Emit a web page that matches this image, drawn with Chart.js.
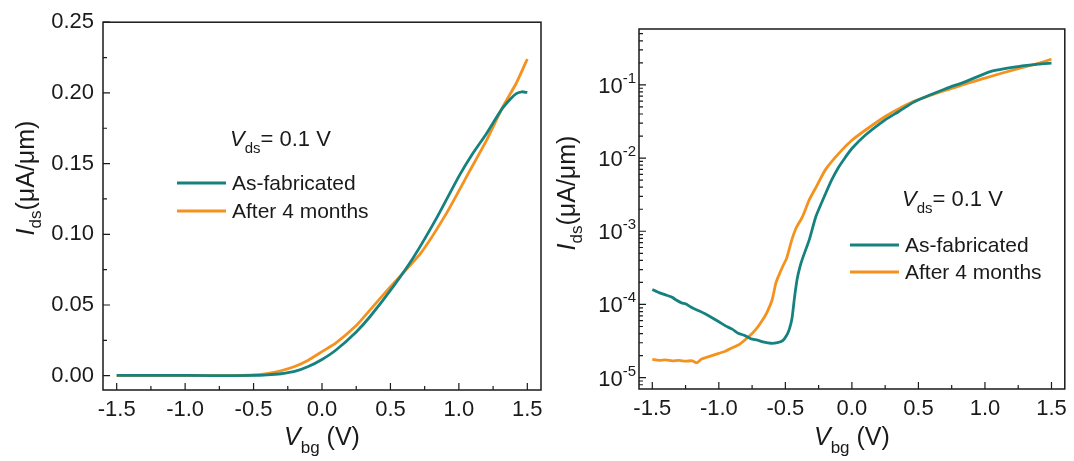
<!DOCTYPE html>
<html>
<head>
<meta charset="utf-8">
<script src="https://cdn.jsdelivr.net/npm/chart.js@4.4.1/dist/chart.umd.min.js"></script>
<style>
  body { margin: 0; background: #fff; }
  #wrap { position: relative; width: 1074px; height: 461px; }
  #left  { position: absolute; left: 0;     top: 0; }
  #right { position: absolute; left: 550px; top: 0; }
</style>
</head>
<body>
<div id="wrap">
  <canvas id="left" width="550" height="461"></canvas>
  <canvas id="right" width="524" height="461"></canvas>
</div>
<script>
// ---- data ----
const seriesNames = ["As-fabricated", "After 4 months"];

// linear panel
const linVbgFab = [-1.5, -1.15, -0.8, -0.5, -0.4, -0.3, -0.2, -0.1, 0, 0.1, 0.25, 0.35, 0.52, 0.67, 0.84, 1.0, 1.1, 1.2, 1.31, 1.38, 1.42, 1.46, 1.5];
const linIdsFab = [0.0003, 0.0003, 0.0001, 0.0002, 0.0006, 0.0014, 0.003, 0.0065, 0.0115, 0.018, 0.031, 0.0417, 0.063, 0.084, 0.112, 0.141, 0.157, 0.171, 0.188, 0.196, 0.1995, 0.2008, 0.2003];
const linVbgAged = [-1.5, -1.0, -0.64, -0.5, -0.4, -0.3, -0.2, -0.1, 0, 0.1, 0.25, 0.35, 0.5, 0.72, 0.91, 1.08, 1.2, 1.32, 1.42, 1.5];
const linIdsAged = [0, 0, 0.0001, 0.0005, 0.0015, 0.0035, 0.0065, 0.011, 0.017, 0.023, 0.0355, 0.0464, 0.063, 0.0865, 0.115, 0.145, 0.166, 0.19, 0.207, 0.224];

// log panel
const logVbgFab = [-1.5, -1.45, -1.4, -1.35, -1.32, -1.28, -1.25, -1.2, -1.15, -1.1, -1.07, -1.0, -0.95, -0.9, -0.85, -0.81, -0.76, -0.71, -0.66, -0.61, -0.56, -0.52, -0.49, -0.47, -0.45, -0.43, -0.41, -0.39, -0.37, -0.32, -0.27, -0.2, -0.15, -0.1, -0.05, 0, 0.1, 0.25, 0.35, 0.47, 0.7, 0.85, 1.04, 1.25, 1.4, 1.5];
const logIdsFab = [1.6e-4, 1.45e-4, 1.35e-4, 1.25e-4, 1.15e-4, 1.05e-4, 1.02e-4, 9.0e-5, 8.2e-5, 7.4e-5, 6.9e-5, 5.8e-5, 5.1e-5, 4.6e-5, 4.0e-5, 3.8e-5, 3.4e-5, 3.25e-5, 3.05e-5, 2.95e-5, 3.0e-5, 3.2e-5, 3.8e-5, 4.6e-5, 6.5e-5, 1.3e-4, 2.3e-4, 3.3e-4, 4.3e-4, 7.7e-4, 1.6e-3, 3.2e-3, 5.1e-3, 7.5e-3, 0.0102, 0.0135, 0.0205, 0.0333, 0.043, 0.059, 0.088, 0.11, 0.152, 0.178, 0.192, 0.198];
const logVbgAged = [-1.5, -1.45, -1.4, -1.35, -1.3, -1.25, -1.2, -1.165, -1.13, -1.07, -1.0, -0.95, -0.89, -0.84, -0.77, -0.72, -0.68, -0.64, -0.6, -0.57, -0.545, -0.52, -0.49, -0.45, -0.42, -0.37, -0.32, -0.26, -0.2, -0.1, 0, 0.1, 0.25, 0.35, 0.47, 0.7, 0.85, 1.0, 1.25, 1.4, 1.5];
const logIdsAged = [1.78e-5, 1.72e-5, 1.75e-5, 1.7e-5, 1.72e-5, 1.68e-5, 1.7e-5, 1.6e-5, 1.8e-5, 1.95e-5, 2.15e-5, 2.3e-5, 2.6e-5, 2.9e-5, 3.7e-5, 4.6e-5, 5.8e-5, 7.7e-5, 1.15e-4, 2.0e-4, 2.6e-4, 3.3e-4, 4.3e-4, 7.8e-4, 1.1e-3, 1.6e-3, 2.7e-3, 4.3e-3, 6.9e-3, 0.0115, 0.0175, 0.024, 0.037, 0.047, 0.06, 0.084, 0.102, 0.124, 0.167, 0.197, 0.224];

// ticks
const xMajor = [-1.5, -1.0, -0.5, 0, 0.5, 1.0, 1.5];
const xMinor = [-1.25, -0.75, -0.25, 0.25, 0.75, 1.25];
const linMajor = [0, 0.05, 0.10, 0.15, 0.20, 0.25];
const linMinor = [0.025, 0.075, 0.125, 0.175, 0.225];
const logMajor = [1e-5, 1e-4, 1e-3, 1e-2, 1e-1];
const logExp = ["-5", "-4", "-3", "-2", "-1"];

const FONT = '"Liberation Sans", Arial, sans-serif';
const TEAL = "#16827f";
const ORANGE = "#f5921e";
const INK = "#1a1a1a";

const pts = (xs, ys) => xs.map((x, i) => ({ x, y: ys[i] }));

// draws [text, size, italic, dy] pieces in a row
function rich(ctx, parts, x, y, align) {
  const f = p => `${p[2] ? "italic " : ""}${p[1]}px ${FONT}`;
  let w = 0;
  parts.forEach(p => { ctx.font = f(p); w += ctx.measureText(p[0]).width; });
  let cx = align === "center" ? x - w / 2 : x;
  ctx.textAlign = "left";
  ctx.textBaseline = "alphabetic";
  parts.forEach(p => {
    ctx.font = f(p);
    ctx.fillText(p[0], cx, y + p[3]);
    cx += ctx.measureText(p[0]).width;
  });
}

function decor(cfg) {
  return {
    id: "decor",
    afterDraw(chart) {
      const { ctx, chartArea: a, scales: { x, y } } = chart;
      ctx.save();
      ctx.strokeStyle = INK;
      ctx.fillStyle = INK;
      ctx.lineWidth = 1.5;
      ctx.strokeRect(a.left, a.top, a.right - a.left, a.bottom - a.top);

      // inward ticks
      ctx.lineWidth = 1.2;
      ctx.beginPath();
      xMajor.forEach(v => { const p = x.getPixelForValue(v); ctx.moveTo(p, a.bottom); ctx.lineTo(p, a.bottom - 7); });
      xMinor.forEach(v => { const p = x.getPixelForValue(v); ctx.moveTo(p, a.bottom); ctx.lineTo(p, a.bottom - 4); });
      cfg.yMajor.forEach(v => { const p = y.getPixelForValue(v); ctx.moveTo(a.left, p); ctx.lineTo(a.left + 7, p); });
      cfg.yMinor.forEach(v => { const p = y.getPixelForValue(v); ctx.moveTo(a.left, p); ctx.lineTo(a.left + 4, p); });
      ctx.stroke();

      // log labels 10^n
      if (cfg.log) {
        logMajor.forEach((v, i) => {
          const p = y.getPixelForValue(v);
          ctx.font = `15px ${FONT}`;
          const ew = ctx.measureText(logExp[i]).width;
          ctx.font = `22px ${FONT}`;
          const bw = ctx.measureText("10").width;
          const right = a.left - 3;
          ctx.textAlign = "left";
          ctx.textBaseline = "alphabetic";
          ctx.fillText("10", right - ew - bw, p + 8);
          ctx.font = `15px ${FONT}`;
          ctx.fillText(logExp[i], right - ew, p - 2);
        });
      }

      // axis titles
      rich(ctx, [["V", 25, true, 0], ["bg", 17, false, 8], [" (V)", 25, false, 0]],
           (a.left + a.right) / 2, 445, "center");
      ctx.save();
      ctx.translate(cfg.yTitleX, cfg.yTitleY);
      ctx.rotate(-Math.PI / 2);
      rich(ctx, [["I", 25, true, 0], ["ds", 17, false, 7], ["(μA/μm)", 25, false, 0]], 0, 0, "center");
      ctx.restore();

      // V_ds annotation
      rich(ctx, [["V", 22, true, 0], ["ds", 15, false, 7], ["= 0.1 V", 22, false, 0]], cfg.noteX, cfg.noteY, "left");

      // legend
      [TEAL, ORANGE].forEach((c, i) => {
        const yy = cfg.legY + i * cfg.legGap;
        ctx.strokeStyle = c;
        ctx.lineWidth = 2.8;
        ctx.beginPath();
        ctx.moveTo(cfg.legX, yy); ctx.lineTo(cfg.legX + 49, yy);
        ctx.stroke();
        ctx.fillStyle = INK;
        ctx.font = `21px ${FONT}`;
        ctx.textAlign = "left";
        ctx.textBaseline = "middle";
        ctx.fillText(seriesNames[i], cfg.legX + 55, yy + 1);
      });
      ctx.restore();
    }
  };
}

function datasets(xf, yf, xa, ya) {
  return [
    { label: seriesNames[0], data: pts(xf, yf), borderColor: TEAL, borderWidth: 2.8, pointRadius: 0, showLine: true, tension: 0.2 },
    { label: seriesNames[1], data: pts(xa, ya), borderColor: ORANGE, borderWidth: 2.8, pointRadius: 0, showLine: true, tension: 0.2 },
  ];
}

const xScale = (h) => ({
  type: "linear", min: -1.6, max: 1.6,
  afterBuildTicks: s => { s.ticks = xMajor.map(v => ({ value: v })); },
  afterFit: s => { s.height = h; },
  grid: { display: false, drawTicks: false },
  border: { display: false },
  ticks: { color: INK, font: { family: FONT, size: 22 }, padding: 7, maxRotation: 0,
           callback: v => v.toFixed(1) },
});

const common = {
  responsive: false,
  animation: false,
  plugins: { legend: { display: false }, tooltip: { enabled: false } },
};

new Chart(document.getElementById("left"), {
  type: "scatter",
  data: { datasets: datasets(linVbgFab, linIdsFab, linVbgAged, linIdsAged) },
  options: {
    ...common,
    layout: { padding: { top: 22, right: 9, left: 0, bottom: 0 } },
    scales: {
      x: xScale(71),
      y: {
        type: "linear", min: -0.0101, max: 0.25,
        afterBuildTicks: s => { s.ticks = linMajor.map(v => ({ value: v })); },
        afterFit: s => { s.width = 103; },
        grid: { display: false, drawTicks: false },
        border: { display: false },
        ticks: { color: INK, font: { family: FONT, size: 22 }, padding: 9, callback: v => v.toFixed(2) },
      },
    },
  },
  plugins: [decor({ yMajor: linMajor, yMinor: linMinor, log: false,
                    yTitleX: 34, yTitleY: 178,
                    noteX: 230, noteY: 146,
                    legX: 177, legY: 183, legGap: 28 })],
});

const logMinor = [];
[1e-6, 1e-5, 1e-4, 1e-3, 1e-2, 1e-1].forEach(d => {
  for (let m = 2; m <= 9; m++) { const v = d * m; if (v > 7e-6 && v < 0.58) logMinor.push(v); }
});

new Chart(document.getElementById("right"), {
  type: "scatter",
  data: { datasets: datasets(logVbgFab, logIdsFab, logVbgAged, logIdsAged) },
  options: {
    ...common,
    layout: { padding: { top: 29, right: 7, left: 0, bottom: 0 } },
    scales: {
      x: xScale(72),
      y: {
        type: "logarithmic", min: 7e-6, max: 0.58,
        afterBuildTicks: s => { s.ticks = logMajor.map(v => ({ value: v })); },
        afterFit: s => { s.width = 89; },
        grid: { display: false, drawTicks: false },
        border: { display: false },
        ticks: { display: false },
      },
    },
  },
  plugins: [decor({ yMajor: logMajor, yMinor: logMinor, log: true,
                    yTitleX: 25, yTitleY: 193,
                    noteX: 352, noteY: 206,
                    legX: 300, legY: 245, legGap: 27 })],
});
</script>
</body>
</html>
